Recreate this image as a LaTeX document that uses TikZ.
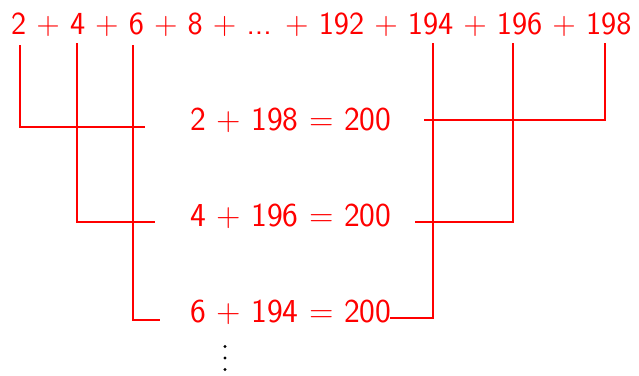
\documentclass[tikz,border=0pt]{standalone}
\usetikzlibrary{positioning}
\tikzset{
  sumtxt/.style ={text=red,font=\fontsize{33.5}{40}\selectfont\sffamily,
                  inner sep=0pt,anchor=base west},
  toptxt/.style ={sumtxt,font=\fontsize{32.2}{40}\selectfont\sffamily},
  pairln/.style ={draw=red,line width=1.6pt},
  vdot/.style   ={fill=black},
}
\begin{document}
\begin{tikzpicture}[x=1pt,y=-1pt]
\useasboundingbox (0,0) rectangle (639,375);
% the long sum
\node[toptxt] (top) at (11,34) {2 + 4 + 6 + 8 + ... + 192 + 194 + 196 + 198};

% the pairs
\node[sumtxt] (s1) at (190,130) {2 + 198 = 200};
\node[sumtxt] (s2) at (190,226) {4 + 196 = 200};
\node[sumtxt] (s3) at (190,322) {6 + 194 = 200};

% vertical dots
\coordinate (dots) at (225,358);
\foreach \dy in {-11.5,0,11.5}
  \fill[vdot] (dots) ++(0,\dy) circle (1.7);

% ---- line ends ---------------------------------------------------------
\coordinate (u2)   at (20,45);   \coordinate (v2)   at (145,127);
\coordinate (u4)   at (77,43);   \coordinate (v4)   at (155,222);
\coordinate (u6)   at (133,45);  \coordinate (v6)   at (160,320);
\coordinate (u198) at (605,43);  \coordinate (v198) at (424,120);
\coordinate (u196) at (513,43);  \coordinate (v196) at (415,222);
\coordinate (u194) at (433,43);  \coordinate (v194) at (390,318);

% ---- connectors --------------------------------------------------------
\draw[pairln] (u2) |- (v2);
\draw[pairln] (u4) |- (v4);
\draw[pairln] (u6) |- (v6);
\draw[pairln] (u198) |- (v198);
\draw[pairln] (u196) |- (v196);
\draw[pairln] (u194) |- (v194);
\end{tikzpicture}
\end{document}
